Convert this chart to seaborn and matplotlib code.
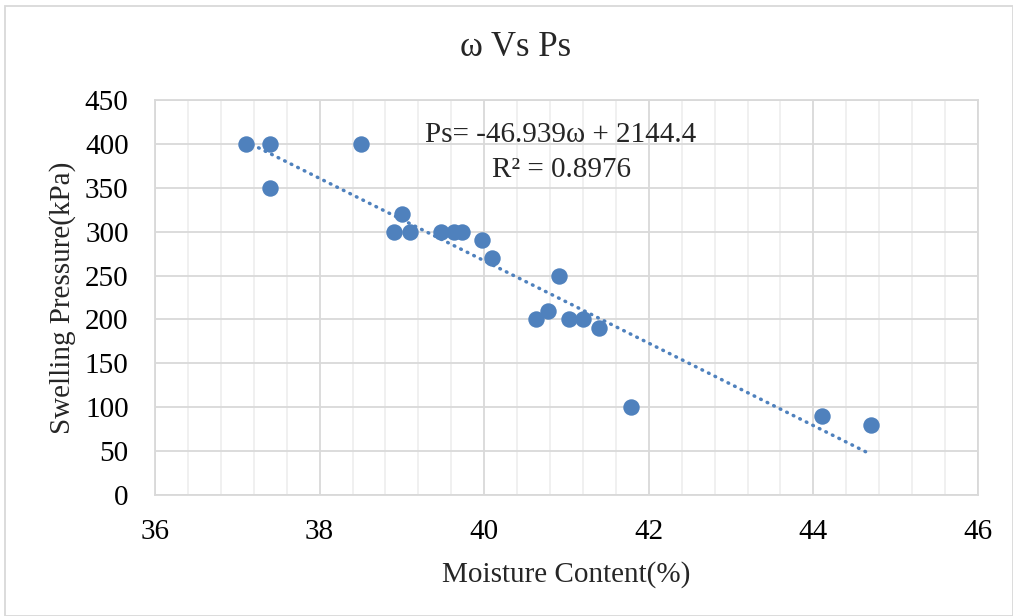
import numpy as np
import pandas as pd
import matplotlib
matplotlib.use("Agg")
import matplotlib.pyplot as plt
from matplotlib.ticker import MultipleLocator
from matplotlib.patches import Rectangle
import seaborn as sns

# ---- data ----
moisture = [37.1, 37.4, 37.4, 38.5, 38.9, 39.0, 39.1, 39.48, 39.63, 39.73,
            39.97, 40.1, 40.63, 40.78, 40.91, 41.03, 41.2, 41.4, 41.78, 44.1, 44.7]
pressure = [400, 400, 350, 400, 300, 320, 300, 300, 300, 300,
            290, 270, 200, 210, 250, 200, 200, 190, 100, 90, 80]
trend_slope = -46.939
trend_intercept = 2144.4
r_squared = 0.8976

title = "ω Vs Ps"
x_label = "Moisture Content(%)"
y_label = "Swelling Pressure(kPa)"
x_ticks = [36, 38, 40, 42, 44, 46]
y_ticks = [0, 50, 100, 150, 200, 250, 300, 350, 400, 450]

df = pd.DataFrame({"moisture": moisture, "pressure": pressure})

sns.set_theme(style="white")
plt.rcParams['font.family'] = ['Liberation Serif', 'DejaVu Serif']

W, H = 1013, 616
fig = plt.figure(figsize=(W / 100, H / 100), dpi=100)
ax = fig.add_axes([155 / W, 1 - 495 / H, (978 - 155) / W, (495 - 100) / H])

color = "#4F81BD"

# trendline
tx = np.array([min(moisture), max(moisture)])
ty = trend_slope * tx + trend_intercept
ax.plot(tx, ty, color=color, lw=2.5, linestyle=(0, (0.2, 1.9)),
        dash_capstyle='round', solid_capstyle='round', zorder=2)

sns.scatterplot(data=df, x="moisture", y="pressure", ax=ax, color=color,
                s=140, edgecolor=color, linewidth=0, zorder=3, legend=False)

ax.set_xlim(36, 46)
ax.set_ylim(0, 450)
ax.set_xticks(x_ticks)
ax.set_yticks(y_ticks)
ax.xaxis.set_minor_locator(MultipleLocator(0.4))
ax.grid(True, which='major', axis='both', color='#d9d9d9', lw=1.3, zorder=0)
ax.grid(True, which='minor', axis='x', color='#efefef', lw=1.3, zorder=0)
ax.set_axisbelow(True)
for side, sp in ax.spines.items():
    sp.set_color('#d9d9d9')
    sp.set_linewidth(1.3)

ax.tick_params(axis='both', which='both', length=0, labelsize=21, colors='black')
ax.tick_params(axis='x', pad=17)
ax.tick_params(axis='y', pad=19)

ax.set_xlabel(x_label, fontsize=21)
ax.set_ylabel(y_label, fontsize=21)
ax.xaxis.set_label_coords(0.5, (495 - 575) / 395)
ax.xaxis.label.set_va('center')
ax.yaxis.set_label_coords((63 - 155) / 823, 0.5)
ax.yaxis.label.set_va('center')

fig.text(516 / W, 1 - 48 / H, title, fontsize=25, ha='center', va='center')

ax.text((561 - 155) / 823, (495 - 135) / 395,
        f"Ps= {trend_slope}ω + {trend_intercept}",
        transform=ax.transAxes, fontsize=21, ha='center', va='center', zorder=4)
ax.text((561 - 155) / 823, (495 - 170) / 395,
        f"R² = {r_squared}",
        transform=ax.transAxes, fontsize=21, ha='center', va='center', zorder=4)

fig.patches.append(Rectangle((5 / W, 0), 1 - 5 / W, 1 - 6 / H, transform=fig.transFigure,
                             fill=False, edgecolor='#d9d9d9', lw=1.3))

fig.savefig("out.png", dpi=100, facecolor='white')
